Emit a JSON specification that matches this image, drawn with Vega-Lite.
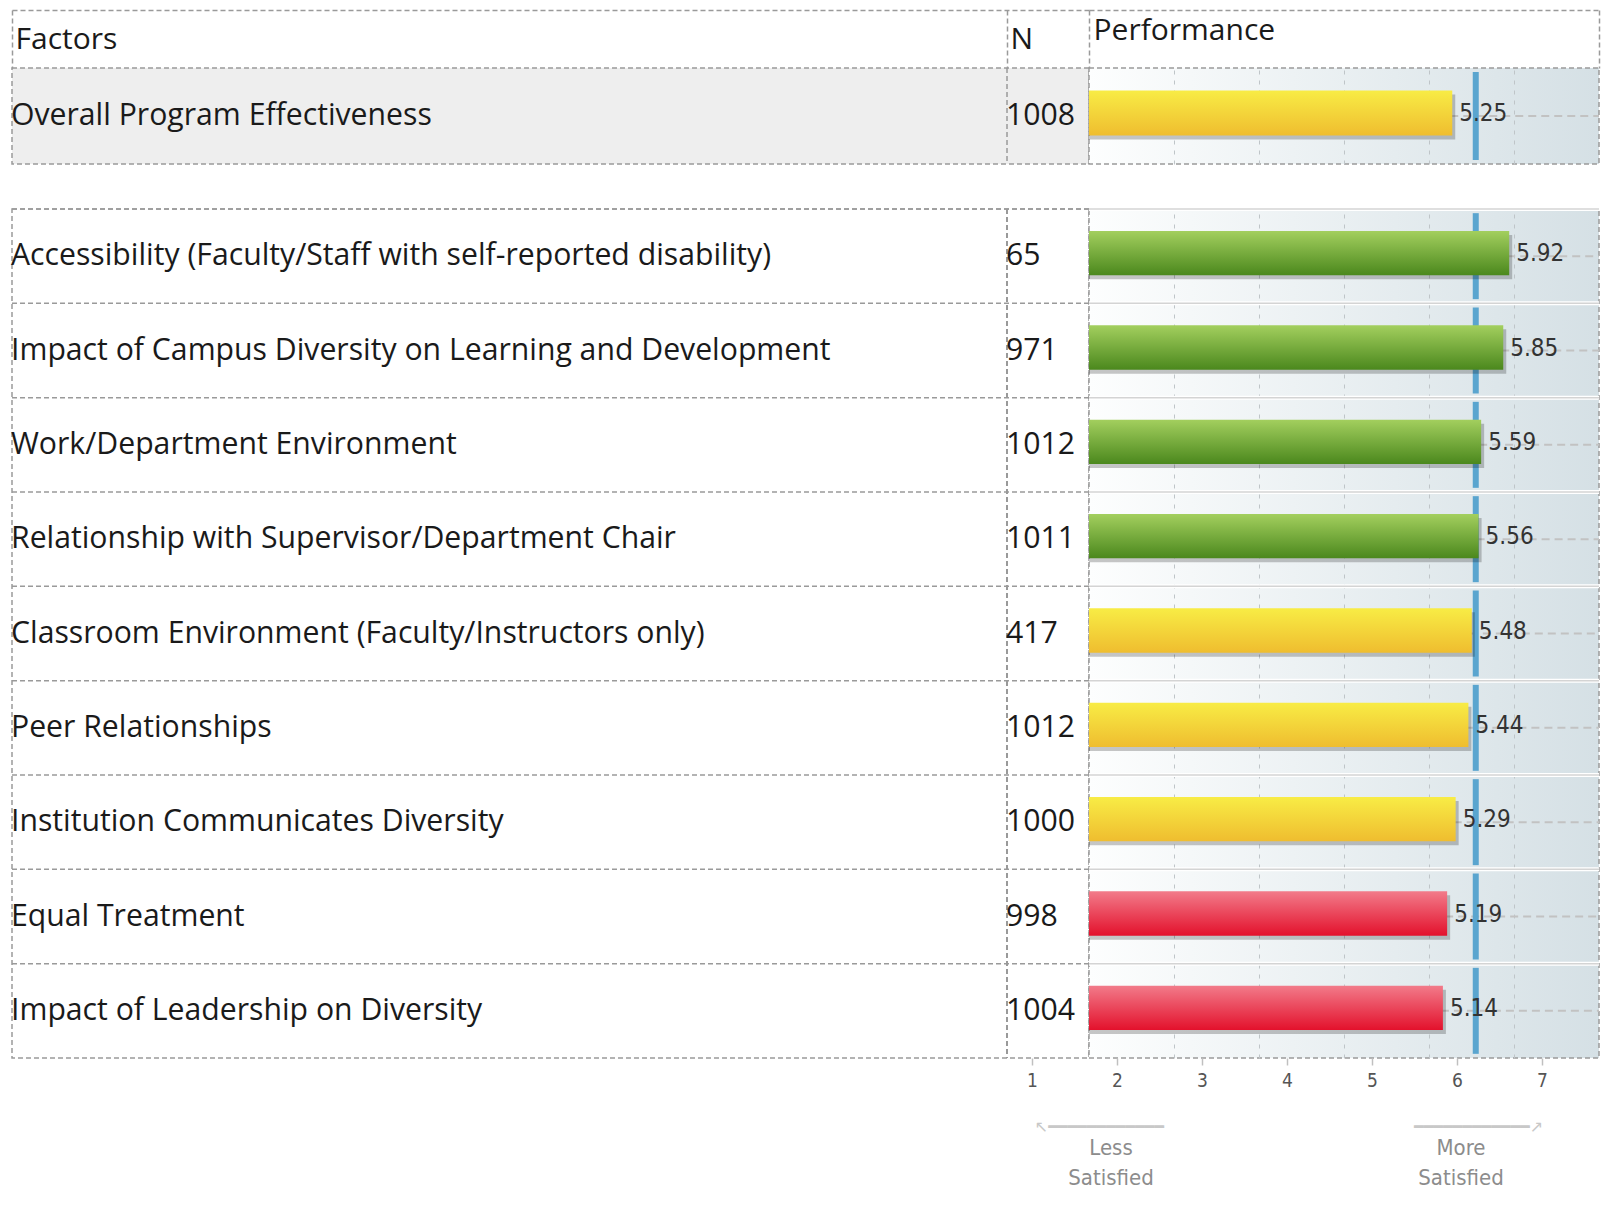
{
  "$schema": "https://vega.github.io/schema/vega-lite/v6.json",
  "padding": {"left": 10, "top": 8, "right": 0, "bottom": 0},
  "autosize": {"type": "pad"},
  "background": "white",
  "config": {
    "view": {"stroke": "#9a9a9a", "strokeDash": [5, 3], "strokeWidth": 1.5},
    "font": "Open Sans"
  },
  "datasets": {
    "scores": [
      {"factor": "Overall Program Effectiveness", "n": 1008, "score": 5.25, "bench": 5.55, "status": "Near", "section": "Overall"},
      {"factor": "Accessibility (Faculty/Staff with self-reported disability)", "n": 65, "score": 5.92, "bench": 5.55, "status": "Above", "section": "Factor"},
      {"factor": "Impact of Campus Diversity on Learning and Development", "n": 971, "score": 5.85, "bench": 5.55, "status": "Above", "section": "Factor"},
      {"factor": "Work/Department Environment", "n": 1012, "score": 5.59, "bench": 5.55, "status": "Above", "section": "Factor"},
      {"factor": "Relationship with Supervisor/Department Chair", "n": 1011, "score": 5.56, "bench": 5.55, "status": "Above", "section": "Factor"},
      {"factor": "Classroom Environment (Faculty/Instructors only)", "n": 417, "score": 5.48, "bench": 5.55, "status": "Near", "section": "Factor"},
      {"factor": "Peer Relationships", "n": 1012, "score": 5.44, "bench": 5.55, "status": "Near", "section": "Factor"},
      {"factor": "Institution Communicates Diversity", "n": 1000, "score": 5.29, "bench": 5.55, "status": "Near", "section": "Factor"},
      {"factor": "Equal Treatment", "n": 998, "score": 5.19, "bench": 5.55, "status": "Below", "section": "Factor"},
      {"factor": "Impact of Leadership on Diversity", "n": 1004, "score": 5.14, "bench": 5.55, "status": "Below", "section": "Factor"}
    ]
  },
  "spacing": 40,
  "vconcat": [
    {
      "spacing": 0,
      "bounds": "flush",
      "hconcat": [
        {
          "width": 1077, "height": 96,
          "view": {"fill": "#eeeeee"},
          "data": {"name": "scores"},
          "transform": [{"filter": "datum.section === 'Overall'"}],
          "layer": [
            {"mark": {"type": "rule", "stroke": "#9a9a9a", "strokeDash": [5, 3], "strokeWidth": 1.5},
             "encoding": {"x": {"datum": "N", "type": "nominal",
               "scale": {"type": "point", "domain": ["Factors", "N"], "padding": 0.0412, "align": 0},
               "axis": {"orient": "top", "offset": 58, "domain": true, "domainColor": "#9a9a9a", "domainDash": [5, 3], "domainWidth": 1.5,
                        "ticks": true, "tickSize": -58, "tickColor": "#9a9a9a", "tickDash": [5, 3], "tickWidth": 1.5,
                        "labelAlign": "left", "labelBaseline": "middle", "labelPadding": 29, "labelOffset": 3, "labelAngle": 0,
                        "labelFont": "Open Sans", "labelFontSize": 30, "labelColor": "#1a1a1a", "title": null}}}},
            {"mark": {"type": "text", "align": "left", "baseline": "middle", "dx": -1, "font": "Open Sans", "fontSize": 30.2, "color": "#1a1a1a"},
             "encoding": {
               "x": {"datum": "Factors", "type": "nominal"},
               "y": {"field": "factor", "type": "nominal", "sort": null, "axis": null},
               "text": {"field": "factor"}}},
            {"mark": {"type": "text", "align": "left", "baseline": "middle", "dx": -1, "font": "Open Sans", "fontSize": 30.2, "color": "#1a1a1a"},
             "encoding": {
               "x": {"datum": "N", "type": "nominal"},
               "y": {"field": "factor", "type": "nominal", "sort": null, "axis": null},
               "text": {"field": "n"}}}
          ]
        },
        {
          "width": 510, "height": 96,
          "view": {"fill": {"gradient": "linear", "x1": 0, "y1": 0, "x2": 1, "y2": 0, "stops": [{"offset": 0, "color": "#fdfefe"}, {"offset": 1, "color": "#d5e0e5"}]}},
          "data": {"name": "scores"},
          "transform": [{"filter": "datum.section === 'Overall'"}],
          "encoding": {"y": {"field": "factor", "type": "nominal", "sort": null, "axis": null, "scale": {"paddingInner": 0, "paddingOuter": 0}}},
          "resolve": {"axis": {"x": "independent"}},
          "layer": [
            {"mark": {"type": "rule", "stroke": "#c2c2c2", "strokeDash": [8, 5], "strokeWidth": 2},
             "encoding": {
               "x": {"field": "score", "type": "quantitative", "scale": {"domain": [1, 7], "nice": false, "zero": false},
                     "axis": {"orient": "top", "offset": 58, "domain": true, "domainColor": "#9a9a9a", "domainDash": [5, 3], "domainWidth": 1.5,
                              "ticks": true, "tickSize": -58, "tickColor": "#9a9a9a", "tickDash": [5, 3], "tickWidth": 1.5, "values": [1, 7],
                              "labels": false, "grid": false,
                              "title": "Performance", "titleX": 4, "titleY": 20, "titleAlign": "left", "titleBaseline": "middle", "titleAngle": 0,
                              "titleFont": "Open Sans", "titleFontSize": 30, "titleFontWeight": "normal", "titleColor": "#1a1a1a"}},
               "x2": {"datum": 7}}},
            {"mark": {"type": "tick", "color": "#5aa5cf", "thickness": 6, "size": 88, "opacity": 1},
             "encoding": {"x": {"field": "bench", "type": "quantitative",
               "axis": {"orient": "bottom", "grid": true, "gridDash": [4, 6], "gridColor": "#bfc5c8", "gridWidth": 1, "labels": false, "ticks": false, "domain": false, "title": null, "values": [2, 3, 4, 5, 6]}}}},
            {"mark": {"type": "bar", "color": "#000000", "opacity": 0.22, "height": {"band": 0.47}, "xOffset": 5, "yOffset": 1},
             "encoding": {"x": {"field": "score", "type": "quantitative", "axis": null}, "x2": {"datum": 1}}},
            {"transform": [{"filter": "datum.status === 'Near'"}],
             "mark": {"type": "bar", "height": {"band": 0.47}, "xOffset": 2, "yOffset": -3, "color": {"gradient": "linear", "x1": 0, "y1": 0, "x2": 0, "y2": 1, "stops": [{"offset": 0, "color": "#f8ec45"}, {"offset": 1, "color": "#efbd2f"}]}},
             "encoding": {"x": {"field": "score", "type": "quantitative", "axis": null}, "x2": {"datum": 1}}},
            {"mark": {"type": "text", "align": "left", "baseline": "middle", "dx": 9, "dy": -2, "font": "Liberation Sans Narrow, DejaVu Sans Condensed, sans-serif", "fontSize": 24, "color": "#333333"},
             "encoding": {"x": {"field": "score", "type": "quantitative", "axis": null}, "text": {"field": "score", "type": "quantitative", "format": ".2f"}}}
          ]
        }
      ]
    },
    {
      "spacing": 0,
      "bounds": "flush",
      "hconcat": [
        {
          "width": 1077, "height": 849,
          "title": {"text": "\u2800\u2800\u2800━━━━━━━━━━━━↗", "subtitle": ["More", "Satisfied"], "orient": "bottom", "anchor": "start", "frame": "group", "align": "center", "dx": 1449, "offset": 60.5, "baseline": "top",
                    "font": "DejaVu Sans", "fontSize": 16, "fontWeight": "normal", "color": "#c8c8c8",
                    "subtitleFont": "Liberation Sans Narrow, DejaVu Sans Condensed, sans-serif", "subtitleFontSize": 22, "subtitleColor": "#8c8c8c", "subtitleLineHeight": 30, "subtitlePadding": 3},
          "data": {"name": "scores"},
          "transform": [{"filter": "datum.section === 'Factor'"}],
          "layer": [
            {"mark": {"type": "rule", "stroke": "#9a9a9a", "strokeDash": [5, 3], "strokeWidth": 1.5},
             "encoding": {"y": {"field": "factor", "type": "nominal", "sort": null, "bandPosition": 0, "axis": null, "scale": {"paddingInner": 0, "paddingOuter": 0}}}},
            {"mark": {"type": "rule", "stroke": "#9a9a9a", "strokeDash": [5, 3], "strokeWidth": 1.5},
             "encoding": {"x": {"datum": "N", "type": "nominal", "scale": {"type": "point", "domain": ["Factors", "N"], "padding": 0.0412, "align": 0}, "axis": null}}},
            {"mark": {"type": "text", "align": "left", "baseline": "middle", "dx": -1, "font": "Open Sans", "fontSize": 30.2, "color": "#1a1a1a"},
             "encoding": {
               "x": {"datum": "Factors", "type": "nominal"},
               "y": {"field": "factor", "type": "nominal", "sort": null, "axis": null},
               "text": {"field": "factor"}}},
            {"mark": {"type": "text", "align": "left", "baseline": "middle", "dx": -1, "font": "Open Sans", "fontSize": 30.2, "color": "#1a1a1a"},
             "encoding": {
               "x": {"datum": "N", "type": "nominal"},
               "y": {"field": "factor", "type": "nominal", "sort": null, "axis": null},
               "text": {"field": "n"}}}
          ]
        },
        {
          "width": 510, "height": 849,
          "view": {"fill": {"gradient": "linear", "x1": 0, "y1": 0, "x2": 1, "y2": 0, "stops": [{"offset": 0, "color": "#fdfefe"}, {"offset": 1, "color": "#d5e0e5"}]}},
          "title": {"text": "↖━━━━━━━━━━━━\u2800\u2800", "subtitle": ["Less", "Satisfied"], "orient": "bottom", "anchor": "start", "frame": "group", "align": "center", "dx": 22, "offset": 28.5, "baseline": "top",
                    "font": "DejaVu Sans", "fontSize": 16, "fontWeight": "normal", "color": "#c8c8c8",
                    "subtitleFont": "Liberation Sans Narrow, DejaVu Sans Condensed, sans-serif", "subtitleFontSize": 22, "subtitleColor": "#8c8c8c", "subtitleLineHeight": 30, "subtitlePadding": 3},
          "data": {"name": "scores"},
          "transform": [{"filter": "datum.section === 'Factor'"}],
          "encoding": {"y": {"field": "factor", "type": "nominal", "sort": null, "axis": null, "scale": {"paddingInner": 0, "paddingOuter": 0}}},
          "resolve": {"axis": {"x": "independent"}},
          "layer": [
            {"mark": {"type": "rule", "stroke": "#ffffff", "strokeWidth": 4},
             "encoding": {"y": {"field": "factor", "type": "nominal", "sort": null, "bandPosition": 0, "axis": null}}},
            {"mark": {"type": "rule", "stroke": "#d4d4d4", "strokeWidth": 1.5},
             "encoding": {"y": {"field": "factor", "type": "nominal", "sort": null, "bandPosition": 0, "axis": null}}},
            {"mark": {"type": "rule", "stroke": "#c2c2c2", "strokeDash": [8, 5], "strokeWidth": 2},
             "encoding": {
               "x": {"field": "score", "type": "quantitative", "scale": {"domain": [1, 7], "nice": false, "zero": false},
                     "axis": {"orient": "bottom", "grid": true, "gridDash": [4, 6], "gridColor": "#bfc5c8", "gridWidth": 1, "ticks": false, "domain": false, "labels": false,
                              "values": [2, 3, 4, 5, 6], "title": null}},
               "x2": {"datum": 7}}},
            {"mark": {"type": "tick", "color": "#5aa5cf", "thickness": 6, "size": 86, "opacity": 1},
             "encoding": {"x": {"field": "bench", "type": "quantitative",
               "axis": {"orient": "bottom", "grid": false, "ticks": true, "tickSize": 7, "tickColor": "#c0c0c0", "tickWidth": 1.5, "tickOffset": -57, "domain": false,
                        "values": [1, 2, 3, 4, 5, 6, 7], "format": "d", "labelFlush": false, "labelPadding": 6,
                        "labelFont": "Liberation Sans Narrow, DejaVu Sans Condensed, sans-serif", "labelFontSize": 19, "labelColor": "#555555", "title": null}}}},
            {"mark": {"type": "bar", "color": "#000000", "opacity": 0.22, "height": {"band": 0.47}, "xOffset": 5, "yOffset": 1},
             "encoding": {"x": {"field": "score", "type": "quantitative", "axis": null}, "x2": {"datum": 1}}},
            {"transform": [{"filter": "datum.status === 'Above'"}],
             "mark": {"type": "bar", "height": {"band": 0.47}, "xOffset": 2, "yOffset": -3, "color": {"gradient": "linear", "x1": 0, "y1": 0, "x2": 0, "y2": 1, "stops": [{"offset": 0, "color": "#a3cf5e"}, {"offset": 1, "color": "#4b881d"}]}},
             "encoding": {"x": {"field": "score", "type": "quantitative", "axis": null}, "x2": {"datum": 1}}},
            {"transform": [{"filter": "datum.status === 'Near'"}],
             "mark": {"type": "bar", "height": {"band": 0.47}, "xOffset": 2, "yOffset": -3, "color": {"gradient": "linear", "x1": 0, "y1": 0, "x2": 0, "y2": 1, "stops": [{"offset": 0, "color": "#f8ec45"}, {"offset": 1, "color": "#efbd2f"}]}},
             "encoding": {"x": {"field": "score", "type": "quantitative", "axis": null}, "x2": {"datum": 1}}},
            {"transform": [{"filter": "datum.status === 'Below'"}],
             "mark": {"type": "bar", "height": {"band": 0.47}, "xOffset": 2, "yOffset": -3, "color": {"gradient": "linear", "x1": 0, "y1": 0, "x2": 0, "y2": 1, "stops": [{"offset": 0, "color": "#f27b8a"}, {"offset": 1, "color": "#e3112c"}]}},
             "encoding": {"x": {"field": "score", "type": "quantitative", "axis": null}, "x2": {"datum": 1}}},
            {"mark": {"type": "text", "align": "left", "baseline": "middle", "dx": 9, "dy": -2, "font": "Liberation Sans Narrow, DejaVu Sans Condensed, sans-serif", "fontSize": 24, "color": "#333333"},
             "encoding": {"x": {"field": "score", "type": "quantitative", "axis": null}, "text": {"field": "score", "type": "quantitative", "format": ".2f"}}}
          ]
        }
      ]
    }
  ]
}
